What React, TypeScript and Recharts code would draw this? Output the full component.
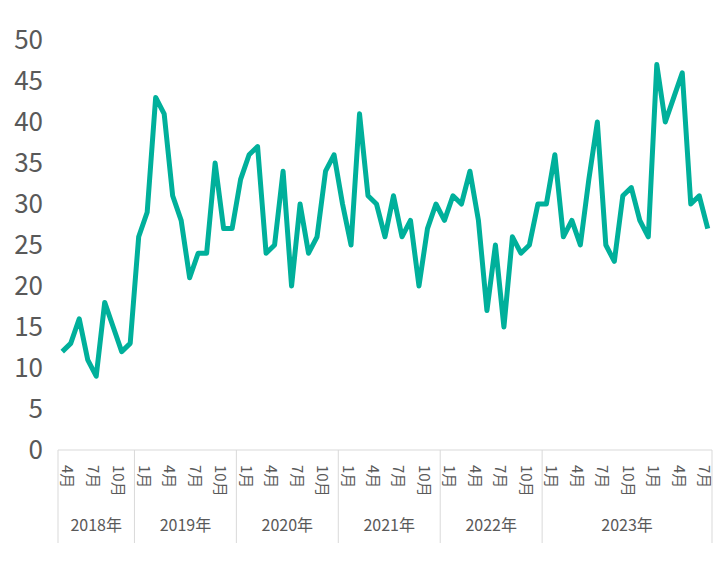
import React from 'react';
import { Line, LineChart, XAxis, YAxis } from 'recharts';

const FONT = '"Noto Sans CJK JP", "Noto Sans", sans-serif';
const TEXT = '#595959';
const RULE = '#d9d9d9';

// Excel groups 2023-01 .. 2024-08 under one "2023年" header, kept as in the picture
const groupLabels = ['2018年', '2019年', '2020年', '2021年', '2022年', '2023年'];
const firstMonth = 4;
const labeledMonths = [1, 4, 7, 10];

const values2018 = [12, 13, 16, 11, 9, 18, 15, 12, 13];
const values2019 = [26, 29, 43, 41, 31, 28, 21, 24, 24, 35, 27, 27];
const values2020 = [33, 36, 37, 24, 25, 34, 20, 30, 24, 26, 34, 36];
const values2021 = [30, 25, 41, 31, 30, 26, 31, 26, 28, 20, 27, 30];
const values2022 = [28, 31, 30, 34, 28, 17, 25, 15, 26, 24, 25, 30];
const values2023 = [30, 36, 26, 28, 25, 33, 40, 25, 23, 31, 32, 28, 26, 47, 40, 43, 46, 30, 31, 27];

const yTicks = [0, 5, 10, 15, 20, 25, 30, 35, 40, 45, 50];

const seriesByGroup = [values2018, values2019, values2020, values2021, values2022, values2023];

interface Point {
  key: string;
  month: number;
  group: number;
  pos: number;
  size: number;
  value: number;
}

const data: Point[] = [];
let month = firstMonth;
seriesByGroup.forEach((vals, group) => {
  vals.forEach((value, pos) => {
    data.push({ key: `${group}-${pos}`, month, group, pos, size: vals.length, value });
    month = month === 12 ? 1 : month + 1;
  });
});
const byKey = new Map(data.map(d => [d.key, d]));

const WIDTH = 719;
const HEIGHT = 561;
const MARGIN = { top: 32, right: 15, left: 0, bottom: 0 };
const Y_AXIS_W = 50;
const X_AXIS_H = 119;
const PLOT_W = WIDTH - MARGIN.left - MARGIN.right - Y_AXIS_W;
const BAND = PLOT_W / data.length;

const MonthGroupTick = (props: any) => {
  const { x, y, payload } = props;
  const d = byKey.get(payload.value);
  if (!d) return null;
  const left = x - BAND / 2;
  const lastGroup = d.group === groupLabels.length - 1;
  const my = y + 15;
  return (
    <g>
      {labeledMonths.includes(d.month) && (
        <text x={x} y={my} transform={`rotate(90, ${x}, ${my})`} fontSize={15} fill={TEXT} fontFamily={FONT}>
          {d.month}月
        </text>
      )}
      {d.pos === 0 && <line x1={left} x2={left} y1={y} y2={y + 93} stroke={RULE} strokeWidth={1} />}
      {lastGroup && d.pos === d.size - 1 && (
        <line x1={x + BAND / 2} x2={x + BAND / 2} y1={y} y2={y + 93} stroke={RULE} strokeWidth={1} />
      )}
      {d.pos === 0 && (
        <text x={left + (d.size * BAND) / 2} y={y + 81} textAnchor="middle" fontSize={16} fill={TEXT} fontFamily={FONT}>
          {groupLabels[d.group]}
        </text>
      )}
    </g>
  );
};

const App: React.FC = () => {
  return (
    <LineChart width={WIDTH} height={HEIGHT} data={data} margin={MARGIN}>
      <XAxis
        dataKey="key"
        type="category"
        interval={0}
        height={X_AXIS_H}
        padding={{ left: BAND / 2, right: BAND / 2 }}
        axisLine={{ stroke: RULE, strokeWidth: 1 }}
        tickLine={false}
        tickSize={0}
        tickMargin={0}
        tick={<MonthGroupTick />}
      />
      <YAxis
        type="number"
        domain={[0, 50]}
        ticks={yTicks}
        width={Y_AXIS_W}
        axisLine={false}
        tickLine={false}
        tickSize={0}
        tickMargin={15}
        tick={{ fontSize: 26, fill: TEXT, fontFamily: FONT }}
      />
      <Line
        type="linear"
        dataKey="value"
        stroke="#00B09B"
        strokeWidth={5}
        strokeLinejoin="round"
        dot={false}
        activeDot={false}
        isAnimationActive={false}
      />
    </LineChart>
  );
};

export default App;
